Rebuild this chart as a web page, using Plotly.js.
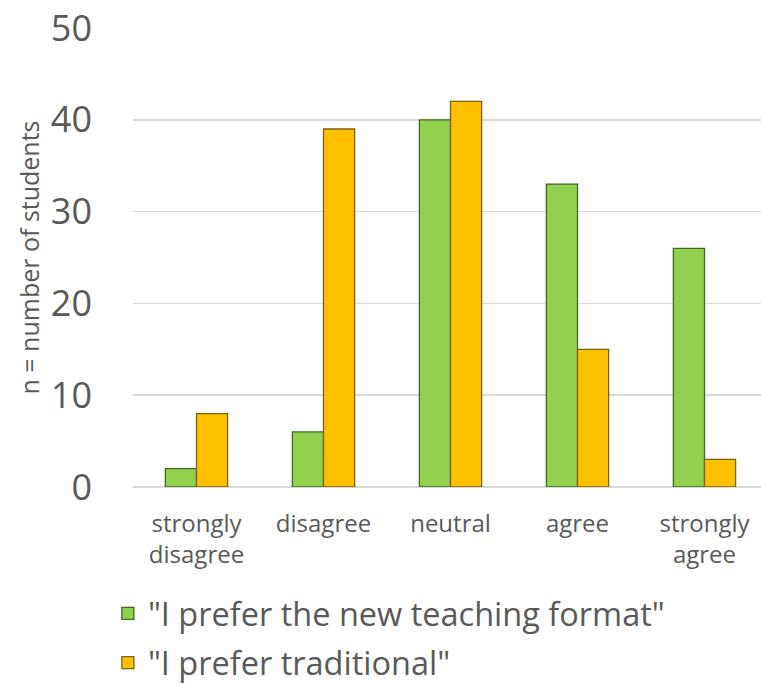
<!DOCTYPE html>
<html>
<head>
<meta charset="utf-8">
<script src="https://cdn.plot.ly/plotly-3.0.1.min.js"></script>
<style>html,body{margin:0;padding:0;background:#fff;}#chart{width:761px;height:685px;}</style>
</head>
<body>
<div id="chart"></div>
<script>
const categories = ["strongly<br>disagree", "disagree", "neutral", "agree", "strongly<br>agree"];
const seriesNames = ['"I prefer the new teaching format"', '"I prefer traditional"'];
const newFormat = [2, 6, 40, 33, 26];
const traditional = [8, 39, 42, 15, 3];
const yTicks = [0, 10, 20, 30, 40, 50];

const FONT = 'Open Sans, Lato, sans-serif';
const TXT = '#595959';

const traces = [
  {type: 'bar', name: seriesNames[0], x: categories, y: newFormat, legendgroup: 'a',
   marker: {color: '#92D050', line: {color: '#3E6B1A', width: 1.3}}},
  {type: 'bar', name: seriesNames[1], x: categories, y: traditional, legendgroup: 'b',
   marker: {color: '#FFC000', line: {color: '#7A6010', width: 1.3}}}
];

const layout = {
  width: 761, height: 685,
  margin: {l: 133, r: 0, t: 28, b: 198, autoexpand: false},
  paper_bgcolor: '#fff', plot_bgcolor: '#fff',
  barmode: 'group', bargap: 0.51, bargroupgap: 0,
  font: {family: FONT, color: TXT},
  xaxis: {
    type: 'category', range: [-0.5, 4.445], automargin: false,
    showgrid: false, zeroline: false, showline: false, ticks: '',
    ticklabelstandoff: 20,
    tickfont: {size: 24, color: TXT, family: FONT}
  },
  yaxis: {
    range: [0, 50], tickvals: yTicks, ticktext: yTicks.map(String), automargin: false,
    showgrid: true, gridcolor: '#D9D9D9', gridwidth: 1.5,
    zeroline: true, zerolinecolor: '#D9D9D9', zerolinewidth: 1.5,
    showline: false, ticks: '',
    ticklabelstandoff: 40,
    tickfont: {size: 36, color: TXT, family: FONT},
    title: {text: 'n = number of students', font: {size: 25, color: TXT, family: FONT}, standoff: 4}
  },
  showlegend: true,
  legend: {
    orientation: 'v', traceorder: 'grouped', x: -0.04, xanchor: 'left', y: -0.215, yanchor: 'top',
    font: {size: 32.5, color: TXT, family: FONT},
    tracegroupgap: 4, bgcolor: 'rgba(0,0,0,0)'
  }
};

Plotly.newPlot('chart', traces, layout, {displayModeBar: false, staticPlot: true});
</script>
</body>
</html>
